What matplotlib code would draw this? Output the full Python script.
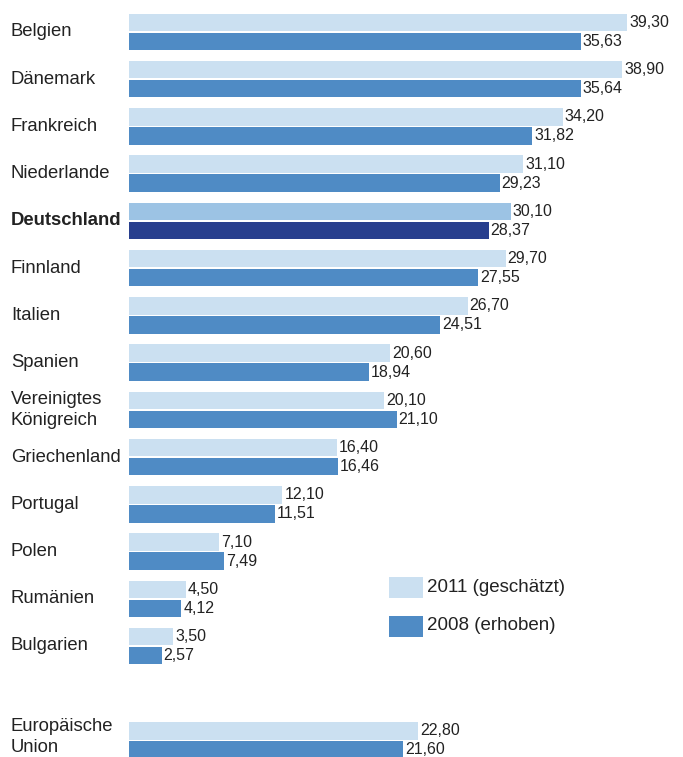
import matplotlib
matplotlib.use("Agg")
import matplotlib.pyplot as plt
from matplotlib.patches import Rectangle

# Data (per 100 inhabitants)
countries = ["Belgien", "Dänemark", "Frankreich", "Niederlande", "Deutschland",
             "Finnland", "Italien", "Spanien", "Vereinigtes\nKönigreich",
             "Griechenland", "Portugal", "Polen", "Rumänien", "Bulgarien",
             "Europäische\nUnion"]
values_2011 = [39.30, 38.90, 34.20, 31.10, 30.10, 29.70, 26.70, 20.60, 20.10,
               16.40, 12.10, 7.10, 4.50, 3.50, 22.80]
values_2008 = [35.63, 35.64, 31.82, 29.23, 28.37, 27.55, 24.51, 18.94, 21.10,
               16.46, 11.51, 7.49, 4.12, 2.57, 21.60]
legend_labels = ["2011 (geschätzt)", "2008 (erhoben)"]
highlight = "Deutschland"

# Row positions: the EU row sits apart from the countries
rows = list(range(14)) + [15]

light = "#CBE0F1"
dark = "#4F8BC5"
light_hl = "#9CC3E4"
dark_hl = "#283F8E"
text_col = "#222222"

W, H = 683, 757
fig = plt.figure(figsize=(W / 100, H / 100), dpi=100)
ax = fig.add_axes([129 / W, 0, (W - 129) / W, 1])

px_per_unit = 12.68
ax.set_xlim(0, (W - 129) / px_per_unit)
pitch = 47.23
ax.set_ylim((H - 32) / pitch, -32 / pitch)
ax.axis("off")

bh = 17.5 / pitch
off = 9.5 / pitch
pad_x = 2 / px_per_unit

plt.rcParams["font.family"] = ["Liberation Sans", "DejaVu Sans"]

for name, y, v11, v08 in zip(countries, rows, values_2011, values_2008):
    hl = name == highlight
    ax.barh(y - off, v11, height=bh, color=light_hl if hl else light, linewidth=0)
    ax.barh(y + off, v08, height=bh, color=dark_hl if hl else dark, linewidth=0)
    ax.text(v11 + pad_x, y - off, f"{v11:.2f}".replace(".", ","), va="center",
            ha="left", fontsize=11.5, color=text_col)
    ax.text(v08 + pad_x, y + off, f"{v08:.2f}".replace(".", ","), va="center",
            ha="left", fontsize=11.5, color=text_col)
    # keep the last (two-line) label clear of the bottom edge
    yc = min(32 + y * pitch, H - 20)
    fig.text(11 / W, 1 - yc / H, name, ha="left", va="center",
             fontsize=13.3, color=text_col, linespacing=1.3,
             fontweight="bold" if hl else "normal")

# Legend
for i, (lab, col) in enumerate(zip(legend_labels, [light, dark])):
    yc = 587 + i * 39
    fig.add_artist(Rectangle((389 / W, 1 - (yc + 10.5) / H), 34 / W, 21 / H,
                             transform=fig.transFigure, color=col, linewidth=0))
    fig.text(427 / W, 1 - yc / H, lab, ha="left", va="center", fontsize=13.5,
             color=text_col)

fig.savefig("out.png", dpi=100)
